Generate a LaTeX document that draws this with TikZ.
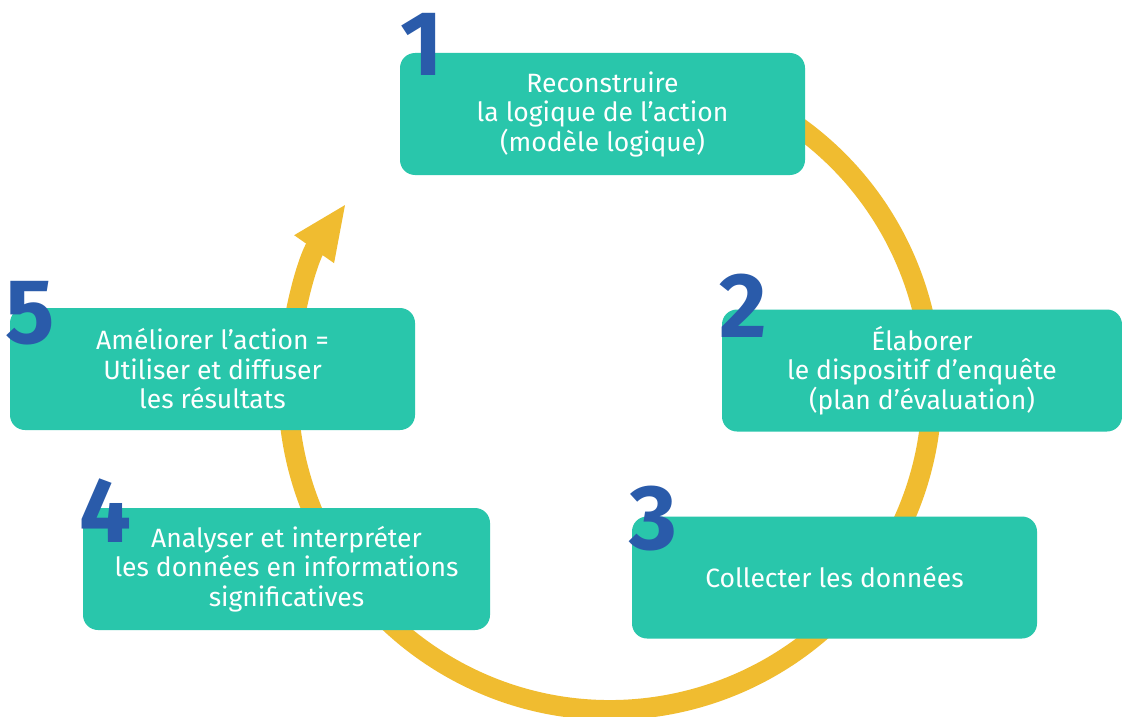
\documentclass[tikz,border=0pt]{standalone}
\usepackage{fontspec}
\setmainfont{Fira Sans}
\usetikzlibrary{arrows.meta}

\definecolor{boxteal}{RGB}{41,198,171}
\definecolor{cycleyellow}{RGB}{240,188,48}
\definecolor{numblue}{RGB}{42,91,170}

\tikzset{
  stepbox/.style={fill=boxteal,rounded corners=15pt,minimum width=405pt,
    minimum height=122pt,align=center,text=white,inner sep=0pt,
    font=\fontsize{26.5}{29.5}\selectfont},
  stepnum/.style={text=numblue,inner sep=0pt,anchor=base,
    font=\fontsize{92}{92}\selectfont\bfseries},
  cycle/.style={draw=cycleyellow,line width=20pt,
    -{Triangle[length=56pt,width=44pt]}}
}

\begin{document}
\begin{tikzpicture}[x=1pt,y=-1pt]

\useasboundingbox (0,0) rectangle (1122,717);
\fill[white] (0,0) rectangle (1122,717);

% the cycle, behind the boxes
\draw[cycle,color=cycleyellow] (610,388) ++(-60:322)
  arc[start angle=-60,end angle=215,radius=322];

% steps
\node[stepbox] (reconstruire) at (602.5,114)
  {Reconstruire\\la logique de l'action\\(modèle logique)};
\node[stepbox,minimum width=400pt] (elaborer) at (922,370.5)
  {Élaborer\\le dispositif d'enquête\\(plan d'évaluation)};
\node[stepbox] (collecter) at (834.5,577.5) {Collecter les données};
\node[stepbox,minimum width=407pt] (analyser) at (286.5,569)
  {Analyser et interpréter\\les données en informations\\significatives};
\node[stepbox] (ameliorer) at (212.5,369)
  {Améliorer l'action =\\Utiliser et diffuser\\les résultats};

% numbers
\node[stepnum] (n1) at (422,75) {1};
\node[stepnum] (n2) at (743,337) {2};
\node[stepnum] (n3) at (653,549) {3};
\node[stepnum] (n4) at (105,542) {4};
\node[stepnum] (n5) at (30,343) {5};

\end{tikzpicture}
\end{document}
